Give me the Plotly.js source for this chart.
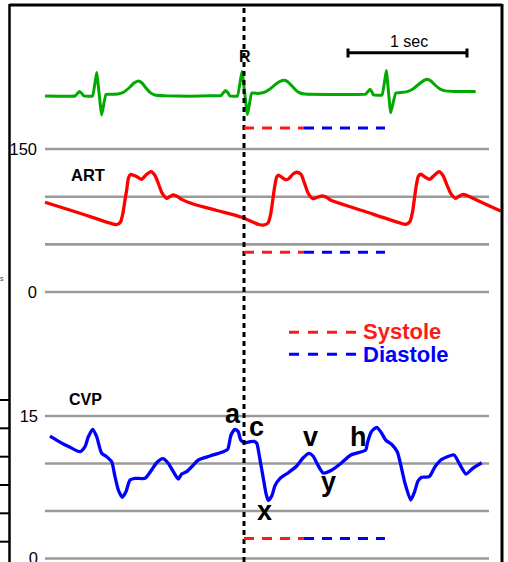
<!DOCTYPE html>
<html>
<head>
<meta charset="utf-8">
<script src="https://cdn.plot.ly/plotly-3.0.1.min.js"></script>
<style>
  html, body { margin: 0; padding: 0; background: #fff; }
  #chart { width: 508px; height: 562px; }
</style>
</head>
<body>
<div id="chart"></div>
<script>
// Time in seconds, measured from the R wave of the middle beat.
const ecgTime = [-1.672, -1.420, -1.403, -1.384, -1.366, -1.345, -1.273, -1.238, -1.196, -1.160,
  -1.109, -1.059, -1.008, -0.958, -0.924, -0.888, -0.857, -0.824, -0.790, -0.748,
  -0.664, -0.454, -0.286, -0.193, -0.176, -0.155, -0.134, -0.118, -0.055, -0.017,
  0.029, 0.065, 0.118, 0.168, 0.218, 0.269, 0.303, 0.340, 0.370, 0.403,
  0.437, 0.471, 0.513, 0.723, 1.023, 1.038, 1.059, 1.076, 1.088, 1.160,
  1.196, 1.233, 1.275, 1.328, 1.372, 1.420, 1.471, 1.513, 1.540, 1.571,
  1.605, 1.647, 1.681, 1.773, 1.947];
// ECG amplitude, mV
const ecgMv = [-0.05, -0.05, 0.05, 0.17, 0.10, -0.05, -0.05, 1.12, -1.00, 0.03,
  0.04, 0.05, 0.15, 0.40, 0.60, 0.70, 0.60, 0.35, 0.13, 0.00,
  -0.04, -0.06, -0.04, -0.03, 0.10, 0.22, 0.10, -0.05, -0.05, 1.17,
  -0.98, 0.10, 0.08, 0.13, 0.30, 0.55, 0.68, 0.74, 0.65, 0.45,
  0.23, 0.10, 0.05, 0.03, 0.04, 0.15, 0.29, 0.15, 0.00, 0.00,
  1.22, -0.89, 0.09, 0.13, 0.17, 0.30, 0.55, 0.73, 0.79, 0.70,
  0.50, 0.30, 0.22, 0.18, 0.17];

const artTime = [-1.672, -1.378, -1.098, -1.067, -1.038, -1.017, -1.000, -0.986, -0.971, -0.954,
  -0.924, -0.903, -0.860, -0.824, -0.782, -0.748, -0.718, -0.689, -0.650, -0.622,
  -0.594, -0.559, -0.524, -0.426, -0.227, -0.019, 0.078, 0.126, 0.168, 0.202,
  0.223, 0.238, 0.256, 0.275, 0.290, 0.322, 0.353, 0.378, 0.412, 0.445,
  0.479, 0.508, 0.538, 0.580, 0.622, 0.660, 0.697, 0.731, 1.017, 1.317,
  1.359, 1.395, 1.416, 1.433, 1.450, 1.466, 1.487, 1.521, 1.561, 1.597,
  1.639, 1.672, 1.706, 1.737, 1.779, 1.811, 1.843, 1.882, 1.933, 2.045,
  2.157];
// Arterial pressure, mmHg
const artMmHg = [94.1, 82.6, 71.3, 70.8, 73.4, 82.9, 96.5, 107.0, 119.6, 123.3,
  122.2, 121.2, 118.2, 122.7, 126.2, 122.2, 113.3, 103.9, 98.3, 100.2,
  101.8, 100.2, 97.2, 92.3, 85.5, 78.4, 73.1, 70.8, 70.3, 72.4,
  80.8, 93.0, 109.1, 120.9, 122.7, 119.9, 117.7, 119.1, 123.8, 125.6,
  123.3, 114.3, 103.9, 97.9, 99.7, 100.9, 99.1, 96.2, 84.4, 72.1,
  71.0, 74.0, 83.9, 98.6, 113.3, 121.7, 123.5, 120.6, 118.2, 122.2,
  126.2, 122.2, 112.2, 103.5, 98.3, 100.7, 102.5, 100.7, 97.8, 91.3,
  85.0];

const cvpTime = [-1.630, -1.518, -1.462, -1.378, -1.336, -1.308, -1.271, -1.238, -1.196, -1.154,
  -1.112, -1.084, -1.056, -1.023, -0.992, -0.958, -0.916, -0.832, -0.776, -0.734,
  -0.683, -0.636, -0.594, -0.552, -0.524, -0.482, -0.439, -0.384, -0.286, -0.174,
  -0.137, -0.109, -0.076, -0.048, -0.028, 0.008, 0.050, 0.084, 0.107, 0.130,
  0.162, 0.185, 0.204, 0.233, 0.261, 0.303, 0.372, 0.443, 0.496, 0.546,
  0.580, 0.613, 0.666, 0.739, 0.813, 0.897, 1.023, 1.036, 1.070, 1.115,
  1.149, 1.191, 1.246, 1.288, 1.311, 1.353, 1.401, 1.433, 1.462, 1.493,
  1.557, 1.605, 1.661, 1.765, 1.801, 1.866, 1.922, 1.997];
// Central venous pressure, mmHg
const cvpMmHg = [12.89, 12.05, 11.71, 11.24, 11.77, 12.82, 13.60, 12.82, 11.07, 10.72,
  10.19, 8.61, 7.21, 6.44, 7.03, 8.26, 8.44, 8.44, 9.32, 10.08,
  10.51, 10.02, 9.14, 8.37, 8.89, 9.14, 9.66, 10.37, 10.79, 11.24,
  11.49, 13.00, 13.60, 13.35, 12.47, 12.19, 12.29, 12.32, 12.13, 10.72,
  8.44, 6.86, 6.11, 6.58, 7.68, 8.44, 9.03, 9.74, 10.58, 11.07,
  10.79, 10.02, 9.00, 9.32, 10.00, 10.89, 11.42, 12.13, 13.35, 13.81,
  13.35, 12.47, 11.95, 11.24, 10.19, 7.92, 6.16, 7.00, 8.16, 8.55,
  8.61, 9.66, 10.44, 10.89, 10.19, 8.89, 9.49, 10.08];

// Reference lines and tick labels for each pressure scale
const artGrid = [0, 50, 100, 150];
const artTicks = [0, 150];
const cvpGrid = [0, 5, 10, 15];
const cvpTicks = [0, 15];

// Cardiac cycle phases, seconds after the R wave
const phaseNames = ['Systole', 'Diastole'];
const phaseStart = [0, 0.504];
const phaseEnd = [0.504, 1.185];

const rWaveTime = 0;
const scaleBarStart = 0.874;
const scaleBarSec = 1;

// ---- styling ----
const W = 508, H = 562;
const FONT = 'Liberation Sans, Arial, Helvetica, sans-serif';
const px = v => v / W;            // horizontal pixel -> paper
const py = v => 1 - v / H;        // vertical pixel -> paper
const phaseColors = ['#ff1a1a', '#0000ff'];
const GRID = '#9a9a9a';

const traces = [
  { x: ecgTime, y: ecgMv, yaxis: 'y3', mode: 'lines', hoverinfo: 'skip',
    line: { color: '#00aa00', width: 3, shape: 'spline', smoothing: 0.3 } },
  { x: artTime, y: artMmHg, yaxis: 'y', mode: 'lines', hoverinfo: 'skip',
    line: { color: '#ff0000', width: 3.3, shape: 'spline', smoothing: 0.6 } },
  { x: cvpTime, y: cvpMmHg, yaxis: 'y2', mode: 'lines', hoverinfo: 'skip',
    line: { color: '#0000ff', width: 3.3, shape: 'spline', smoothing: 0.6 } }
];

const shapes = [];
// gray reference lines
artGrid.forEach(v => shapes.push({ type: 'line', layer: 'below', xref: 'paper', yref: 'y',
  x0: px(45), x1: px(489), y0: v, y1: v, line: { color: GRID, width: 2.6 } }));
cvpGrid.forEach(v => shapes.push({ type: 'line', layer: 'below', xref: 'paper', yref: 'y2',
  x0: px(45), x1: px(489), y0: v, y1: v, line: { color: GRID, width: 2.6 } }));

// frame
shapes.push({ type: 'line', xref: 'paper', yref: 'paper', x0: px(9.5), x1: px(502), y0: py(5), y1: py(5), line: { color: '#000', width: 3 } });
shapes.push({ type: 'line', xref: 'paper', yref: 'paper', x0: px(9.5), x1: px(9.5), y0: py(4), y1: 0, line: { color: '#000', width: 2.5 } });
shapes.push({ type: 'line', xref: 'paper', yref: 'paper', x0: px(502), x1: px(502), y0: py(4), y1: 0, line: { color: '#000', width: 3 } });
[400, 428.3, 456.7, 485, 513.3, 541.7].forEach(y => shapes.push({ type: 'line', xref: 'paper', yref: 'paper',
  x0: 0, x1: px(9.5), y0: py(y), y1: py(y), line: { color: '#000', width: 2 } }));

// R-wave marker
shapes.push({ type: 'line', xref: 'x', yref: 'paper', x0: rWaveTime, x1: rWaveTime, y0: 0, y1: py(6),
  line: { color: '#000', width: 3, dash: '5px,4px' } });

// systole / diastole bars under each trace
[128, 252.3, 538.5].forEach(yy => {
  phaseNames.forEach((n, i) => shapes.push({ type: 'line', xref: 'x', yref: 'paper',
    x0: phaseStart[i], x1: phaseEnd[i], y0: py(yy), y1: py(yy),
    line: { color: phaseColors[i], width: 3, dash: '10px,8px' } }));
});

// legend samples
[332.3, 354.3].forEach((yy, i) => shapes.push({ type: 'line', xref: 'paper', yref: 'paper',
  x0: px(289), x1: px(356), y0: py(yy), y1: py(yy),
  line: { color: phaseColors[i], width: 3, dash: '10px,9px' } }));

// 1 second scale bar
shapes.push({ type: 'line', xref: 'x', yref: 'paper', x0: scaleBarStart, x1: scaleBarStart + scaleBarSec,
  y0: py(52.7), y1: py(52.7), line: { color: '#000', width: 3 } });
[scaleBarStart, scaleBarStart + scaleBarSec].forEach(x => shapes.push({ type: 'line', xref: 'x', yref: 'paper',
  x0: x, x1: x, y0: py(48.5), y1: py(57.5), line: { color: '#000', width: 3 } }));

const ann = (o) => Object.assign({ showarrow: false, xanchor: 'center', yanchor: 'middle', borderpad: 0,
  font: { family: FONT, size: 16, color: '#000' } }, o);

const annotations = [
  ann({ text: 'ART', xref: 'paper', yref: 'paper', x: px(87.5), y: py(174.5), font: { family: FONT, size: 16.5, color: '#000', weight: 'bold' } }),
  ann({ text: 'CVP', xref: 'paper', yref: 'paper', x: px(85), y: py(399.5), font: { family: FONT, size: 16, color: '#000', weight: 'bold' } }),
  ann({ text: 'R', xref: 'x', yref: 'paper', x: rWaveTime, xshift: 1, y: py(56), font: { family: FONT, size: 16, color: '#000', weight: 'bold' } }),
  ann({ text: '1 sec', xref: 'x', yref: 'paper', x: scaleBarStart + scaleBarSec / 2, xshift: 1.5, y: py(41.5), font: { family: FONT, size: 16, color: '#000' } }),
  ann({ text: 's', xref: 'paper', yref: 'paper', x: px(2), y: py(278), font: { family: FONT, size: 7, color: '#444' } })
];
phaseNames.forEach((n, i) => annotations.push(ann({ text: n, xref: 'paper', yref: 'paper', xanchor: 'left',
  x: px(362), y: py([331.6, 354.8][i]), font: { family: FONT, size: 22, color: phaseColors[i], weight: 'bold' } })));

// CVP wave labels, placed on the pressure scale
[['a', -0.092, 15.22], ['c', 0.103, 13.88], ['x', 0.170, 4.97],
 ['v', 0.556, 12.76], ['y', 0.708, 8.09], ['h', 0.960, 12.76]].forEach(([t, x, y]) =>
  annotations.push(ann({ text: t, xref: 'x', yref: 'y2', x: x, y: y, font: { family: FONT, size: 27, color: '#000', weight: 'bold' } })));

const yTick = { family: FONT, size: 16.5, color: '#000' };
const layout = {
  width: W, height: H,
  margin: { l: 0, r: 0, t: 0, b: 0 },
  paper_bgcolor: '#fff', plot_bgcolor: '#fff',
  showlegend: false,
  xaxis: { range: [-2.0504, 2.2185], visible: false, fixedrange: true },
  yaxis: { range: [-283.2, 306.3], tickvals: artTicks, ticktext: artTicks.map(String),
    showgrid: false, zeroline: false, showline: false, ticks: '',
    anchor: 'free', position: px(37), tickfont: yTick, ticklabeloverflow: 'allow', fixedrange: true },
  yaxis2: { range: [-0.368, 58.79], overlaying: 'y', tickvals: cvpTicks, ticktext: cvpTicks.map(String),
    showgrid: false, zeroline: false, showline: false, ticks: '',
    anchor: 'free', position: px(38), side: 'left', tickfont: yTick, ticklabeloverflow: 'allow', fixedrange: true },
  yaxis3: { range: [-23.35, 4.75], overlaying: 'y', visible: false, fixedrange: true },
  shapes: shapes,
  annotations: annotations
};

Plotly.newPlot('chart', traces, layout, { staticPlot: true, displayModeBar: false });
</script>
</body>
</html>
